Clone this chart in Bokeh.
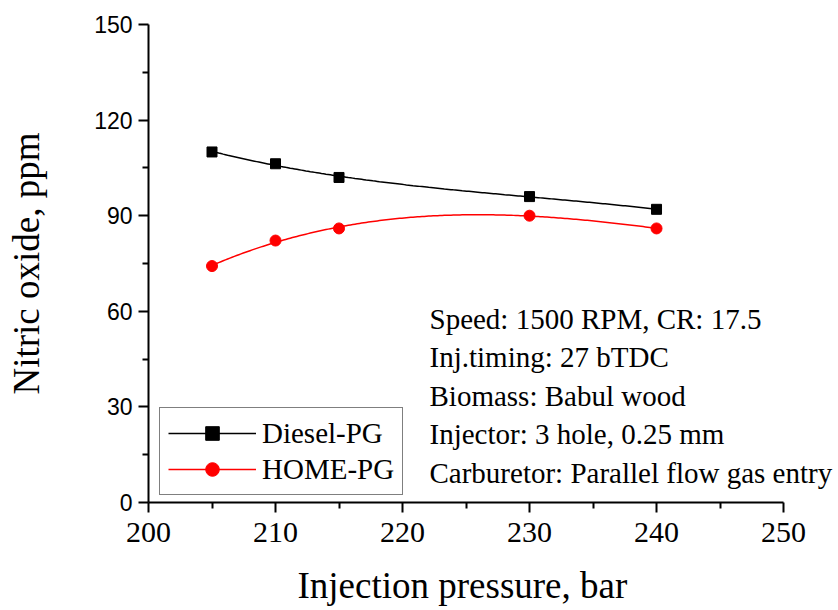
import numpy as np
from bokeh.plotting import figure
from bokeh.models import Range1d, Legend, LegendItem, Label, FixedTicker, Title
from bokeh.embed import file_html
from bokeh.resources import INLINE

pressure = [205, 210, 215, 230, 240]
diesel_pg = [110, 106.3, 102, 96, 92]
home_pg = [74.2, 82.2, 86, 90, 86]
x_ticks = [200, 210, 220, 230, 240, 250]
y_ticks = [0, 30, 60, 90, 120, 150]
notes = ["Speed: 1500 RPM, CR: 17.5", "Inj.timing: 27 bTDC", "Biomass: Babul wood",
         "Injector: 3 hole, 0.25 mm", "Carburetor: Parallel flow gas entry"]

SERIF = "Liberation Serif"
SANS = "Liberation Sans"

# frame extends past 250 (axis bounded to 200-250) so the note text is not clipped
p = figure(width=838, height=610, output_backend="svg", toolbar_location=None,
           x_range=Range1d(200, 254.17), y_range=Range1d(0, 150),
           min_border_left=148, min_border_right=2, min_border_top=24, min_border_bottom=106)
p.outline_line_color = None
p.xgrid.visible = False
p.ygrid.visible = False

# smooth fitted curves computed from the data
xs = np.linspace(min(pressure), max(pressure), 200)
fd = np.polyval(np.polyfit(pressure, diesel_pg, 3), xs)
fh = np.polyval(np.polyfit(pressure, home_pg, 3), xs)

ld = p.line(xs, fd, line_color="black", line_width=1.5)
sd = p.scatter(pressure, diesel_pg, marker="square", size=10, fill_color="black", line_color="black")
lh = p.line(xs, fh, line_color="#ff0000", line_width=1.5)
sh = p.scatter(pressure, home_pg, marker="circle", size=11, fill_color="#ff0000", line_color="#ff0000")

for ax in (p.xaxis[0], p.yaxis[0]):
    ax.axis_line_width = 2
    ax.major_tick_line_width = 2
    ax.minor_tick_line_width = 2
    ax.major_tick_out = 10
    ax.major_tick_in = 0
    ax.minor_tick_out = 6
    ax.minor_tick_in = 0
    ax.axis_line_color = "black"
    ax.major_tick_line_color = "black"
    ax.minor_tick_line_color = "black"
    ax.major_label_text_color = "black"
    ax.axis_label_text_color = "black"
    ax.axis_label_text_font_style = "normal"
    ax.axis_label_text_font = SERIF
    ax.axis_label_text_font_size = "37px"

p.xaxis.bounds = (x_ticks[0], x_ticks[-1])
p.xaxis.ticker = FixedTicker(ticks=x_ticks, minor_ticks=[205, 215, 225, 235, 245])
p.yaxis.ticker = FixedTicker(ticks=y_ticks, minor_ticks=[15, 45, 75, 105, 135])
p.xaxis.major_label_text_font = SERIF
p.xaxis.major_label_text_font_size = "30px"
p.yaxis.major_label_text_font = SANS
p.yaxis.major_label_text_font_size = "23px"
p.yaxis.axis_label = "Nitric oxide, ppm"
p.yaxis.axis_label_standoff = 44
p.xaxis.major_label_standoff = 10
p.yaxis.major_label_standoff = 6

# small spacer, then the x-axis title centred under the 200-250 span rather than the wider frame
p.add_layout(Title(text=" ", text_font_size="1px"), "below")
p.add_layout(Title(text="Injection pressure, bar", align="left", offset=149,
                   text_font=SERIF, text_font_size="37px", text_font_style="normal",
                   text_color="black"), "below")

legend = Legend(items=[LegendItem(label="Diesel-PG", renderers=[ld, sd]),
                       LegendItem(label="HOME-PG", renderers=[lh, sh])],
                location=(11, 7))
legend.label_text_font = SERIF
legend.label_text_font_size = "29px"
legend.label_text_color = "black"
legend.border_line_color = "black"
legend.border_line_width = 1.5
legend.glyph_width = 88
legend.glyph_height = 34
legend.label_height = 34
legend.spacing = 2
legend.padding = 8
legend.margin = 0
legend.label_standoff = 6
legend.background_fill_alpha = 1
p.add_layout(legend)

for i, t in enumerate(notes):
    p.add_layout(Label(x=281, y=184 - i * 38.5, x_units="screen", y_units="screen", text=t,
                       text_font=SERIF, text_font_size="29px", text_color="black",
                       text_baseline="middle"))

open("out.html", "w").write(file_html(p, INLINE))
